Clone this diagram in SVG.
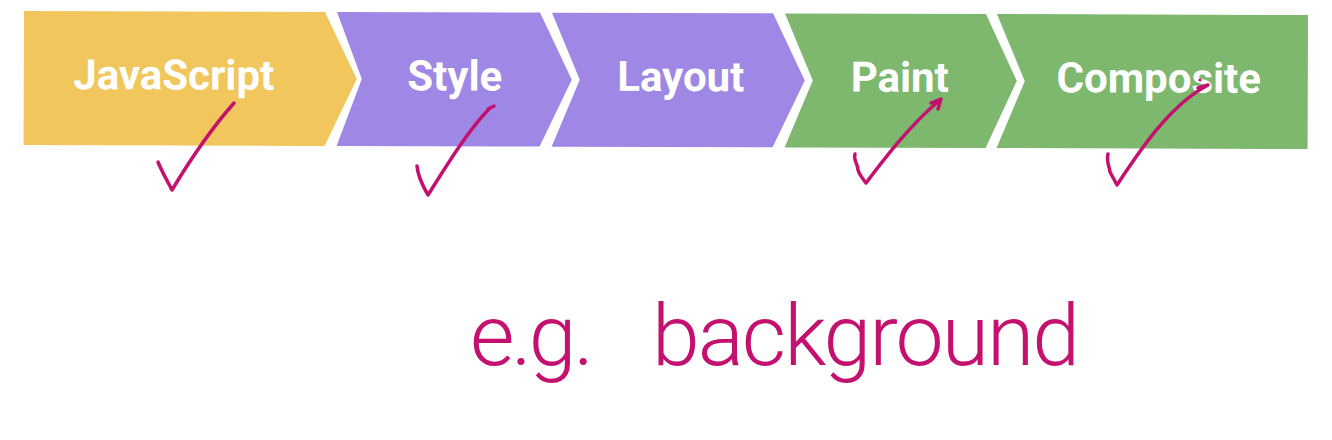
<svg xmlns="http://www.w3.org/2000/svg" width="1332" height="440" viewBox="0 0 1332 440">
  <style>
    .lbl { font-family: Roboto, "Liberation Sans", sans-serif; font-weight: 700; font-size: 42px; fill: #ffffff; text-anchor: middle; }
    .yellow { fill: #F1C75D; }
    .purple { fill: #9F88E5; }
    .green { fill: #7EB86F; }
    .ink { fill: none; stroke: #C4106E; stroke-width: 3.5; stroke-linecap: round; stroke-linejoin: round; }
    .hand { font-family: Roboto, "Liberation Sans", sans-serif; font-weight: 300; font-size: 86px; fill: #C4106E; }
  </style>
  <rect width="1332" height="440" fill="#ffffff"/>
  <g id="pipeline" transform="rotate(0.18 24 11)">
    <g id="node-javascript">
      <path class="yellow" d="M24,11 H325 L357,78 L325,145 H24 Z"/>
      <text class="lbl" x="174" y="89">JavaScript</text>
    </g>
    <g id="node-style">
      <path class="purple" d="M337,11 H540 L572,78 L540,145 H337 L362,78 Z"/>
      <text class="lbl" x="455" y="89">Style</text>
    </g>
    <g id="node-layout">
      <path class="purple" d="M552,11 H773 L805,78 L773,145 H552 L580,78 Z"/>
      <text class="lbl" x="681" y="89">Layout</text>
    </g>
    <g id="node-paint">
      <path class="green" d="M785,11 H986 L1017,78 L986,145 H785 L813,78 Z"/>
      <text class="lbl" x="900" y="89">Paint</text>
    </g>
    <g id="node-composite">
      <path class="green" d="M997,11 H1308 V145 H997 L1025,78 Z"/>
      <text class="lbl" x="1159" y="89">Composite</text>
    </g>
  </g>
  <g id="checkmarks">
    <path class="ink" d="M158,162 C162,172 168,182 172,190 C190,160 212,128 234,103"/>
    <path class="ink" d="M417,166 C418,178 424,188 428,195 C445,168 468,130 490,108 L494,106 L488,109"/>
    <path class="ink" d="M855,154 C853,160 858,164 858,170 C860,176 864,180 866,183 C885,158 910,125 940,100 M931,103 L941,99 L938,109"/>
    <path class="ink" d="M1108,154 C1106,162 1110,168 1110,172 L1117,185 C1140,150 1170,105 1208,85 L1198,88"/>
    <circle cx="1200" cy="80" r="1.6" fill="#C4106E"/>
  </g>
  <text class="hand" y="365"><tspan x="470" textLength="124" lengthAdjust="spacing">e.g.</tspan><tspan x="652" textLength="428" lengthAdjust="spacing">background</tspan></text>
</svg>
